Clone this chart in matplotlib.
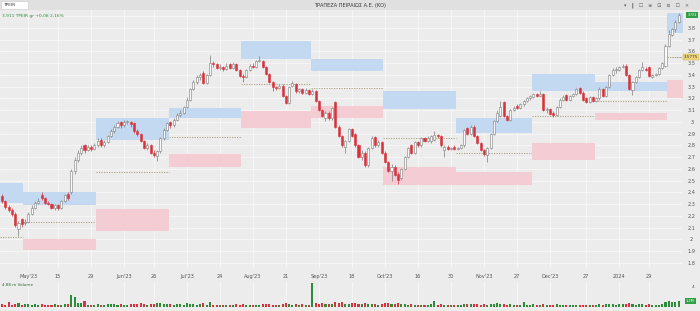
import matplotlib.pyplot as plt
from matplotlib.patches import Rectangle
import matplotlib.transforms as mtransforms

# daily candles, May 2023 - Jan 2024
opens = [2.37, 2.33, 2.28, 2.25, 2.22, 2.09, 2.17, 2.14, 2.15, 2.22,
         2.27, 2.31, 2.38, 2.35, 2.31, 2.30, 2.27, 2.29, 2.27, 2.33,
         2.39, 2.40, 2.58, 2.68, 2.74, 2.80, 2.76, 2.79, 2.77, 2.80,
         2.85, 2.80, 2.83, 2.88, 2.92, 2.96, 3.00, 2.97, 3.00, 3.00,
         2.99, 2.92, 2.90, 2.84, 2.78, 2.80, 2.74, 2.71, 2.75, 2.86,
         2.93, 3.00, 2.97, 3.02, 3.06, 3.08, 3.13, 3.19, 3.28, 3.34,
         3.38, 3.42, 3.33, 3.40, 3.50, 3.49, 3.46, 3.47, 3.45, 3.49,
         3.46, 3.49, 3.44, 3.39, 3.38, 3.44, 3.48, 3.47, 3.52, 3.52,
         3.47, 3.41, 3.34, 3.30, 3.29, 3.31, 3.22, 3.16, 3.31, 3.32,
         3.26, 3.28, 3.25, 3.27, 3.24, 3.26, 3.18, 3.10, 3.03, 3.08,
         3.03, 3.17, 2.96, 2.88, 2.79, 2.84, 2.94, 2.90, 2.80, 2.70,
         2.74, 2.63, 2.78, 2.87, 2.80, 2.83, 2.74, 2.66, 2.58, 2.62,
         2.56, 2.52, 2.60, 2.70, 2.80, 2.74, 2.83, 2.80, 2.86, 2.84,
         2.84, 2.85, 2.89, 2.88, 2.76, 2.79, 2.77, 2.79, 2.77, 2.78,
         2.80, 2.95, 2.90, 2.96, 2.88, 2.82, 2.76, 2.72, 2.78, 2.90,
         3.01, 3.05, 3.17, 3.05, 3.02, 3.10, 3.14, 3.12, 3.15, 3.18,
         3.20, 3.21, 3.24, 3.22, 3.24, 3.10, 3.11, 3.08, 3.06, 3.13,
         3.19, 3.23, 3.19, 3.22, 3.24, 3.29, 3.25, 3.20, 3.17, 3.21,
         3.18, 3.20, 3.28, 3.22, 3.30, 3.40, 3.44, 3.44, 3.47, 3.48,
         3.40, 3.27, 3.34, 3.38, 3.44, 3.45, 3.47, 3.38, 3.40, 3.41,
         3.46, 3.48, 3.65, 3.74, 3.79, 3.85]
closes = [2.33, 2.28, 2.25, 2.22, 2.12, 2.14, 2.13, 2.15, 2.22, 2.27,
          2.31, 2.33, 2.35, 2.31, 2.30, 2.27, 2.29, 2.27, 2.33, 2.38,
          2.35, 2.58, 2.68, 2.74, 2.78, 2.76, 2.79, 2.77, 2.80, 2.84,
          2.80, 2.83, 2.88, 2.92, 2.96, 2.99, 2.97, 3.00, 3.00, 2.98,
          2.92, 2.90, 2.84, 2.78, 2.80, 2.74, 2.72, 2.75, 2.86, 2.93,
          2.99, 2.97, 3.02, 3.06, 3.08, 3.13, 3.19, 3.28, 3.34, 3.38,
          3.40, 3.33, 3.40, 3.50, 3.49, 3.46, 3.47, 3.45, 3.48, 3.46,
          3.49, 3.44, 3.39, 3.38, 3.44, 3.48, 3.47, 3.52, 3.53, 3.47,
          3.41, 3.34, 3.30, 3.29, 3.31, 3.22, 3.16, 3.30, 3.33, 3.26,
          3.28, 3.25, 3.27, 3.24, 3.26, 3.18, 3.10, 3.05, 3.08, 3.03,
          3.12, 2.96, 2.88, 2.80, 2.84, 2.94, 2.88, 2.80, 2.70, 2.74,
          2.63, 2.78, 2.86, 2.80, 2.83, 2.74, 2.66, 2.58, 2.62, 2.55,
          2.51, 2.60, 2.70, 2.78, 2.74, 2.83, 2.80, 2.86, 2.84, 2.86,
          2.88, 2.89, 2.88, 2.80, 2.79, 2.77, 2.78, 2.77, 2.78, 2.80,
          2.93, 2.90, 2.96, 2.88, 2.82, 2.76, 2.73, 2.78, 2.90, 3.01,
          3.08, 3.13, 3.05, 3.02, 3.10, 3.12, 3.12, 3.15, 3.18, 3.20,
          3.22, 3.24, 3.22, 3.24, 3.10, 3.11, 3.07, 3.06, 3.13, 3.19,
          3.21, 3.19, 3.22, 3.24, 3.28, 3.25, 3.19, 3.17, 3.21, 3.18,
          3.20, 3.28, 3.22, 3.30, 3.40, 3.44, 3.45, 3.47, 3.48, 3.40,
          3.28, 3.34, 3.38, 3.44, 3.47, 3.44, 3.39, 3.40, 3.41, 3.46,
          3.50, 3.65, 3.75, 3.79, 3.85, 3.91]
highs = [2.39, 2.34, 2.29, 2.27, 2.23, 2.16, 2.18, 2.17, 2.23, 2.29,
         2.33, 2.35, 2.40, 2.36, 2.33, 2.31, 2.30, 2.30, 2.34, 2.39,
         2.40, 2.60, 2.70, 2.76, 2.80, 2.81, 2.80, 2.80, 2.82, 2.86,
         2.86, 2.85, 2.89, 2.94, 2.97, 3.01, 3.01, 3.02, 3.02, 3.01,
         3.00, 2.94, 2.91, 2.85, 2.82, 2.81, 2.76, 2.76, 2.87, 2.95,
         3.00, 3.01, 3.03, 3.08, 3.10, 3.14, 3.21, 3.29, 3.36, 3.40,
         3.42, 3.43, 3.41, 3.57, 3.52, 3.50, 3.49, 3.48, 3.50, 3.50,
         3.51, 3.50, 3.45, 3.41, 3.45, 3.49, 3.50, 3.53, 3.56, 3.53,
         3.48, 3.42, 3.35, 3.31, 3.32, 3.32, 3.23, 3.31, 3.35, 3.33,
         3.29, 3.29, 3.29, 3.28, 3.28, 3.27, 3.19, 3.11, 3.09, 3.09,
         3.13, 3.18, 2.97, 2.89, 2.85, 2.95, 2.95, 2.91, 2.81, 2.76,
         2.75, 2.79, 2.88, 2.88, 2.85, 2.84, 2.75, 2.67, 2.64, 2.63,
         2.57, 2.61, 2.71, 2.79, 2.81, 2.84, 2.84, 2.87, 2.87, 2.88,
         2.89, 2.92, 2.90, 2.89, 2.80, 2.80, 2.79, 2.80, 2.79, 2.81,
         2.94, 2.96, 2.97, 2.97, 2.89, 2.83, 2.77, 2.79, 2.91, 3.02,
         3.10, 3.18, 3.18, 3.06, 3.11, 3.14, 3.15, 3.16, 3.19, 3.21,
         3.23, 3.25, 3.25, 3.26, 3.25, 3.13, 3.12, 3.09, 3.14, 3.20,
         3.23, 3.24, 3.23, 3.25, 3.29, 3.30, 3.26, 3.21, 3.22, 3.22,
         3.21, 3.30, 3.29, 3.31, 3.41, 3.46, 3.47, 3.48, 3.49, 3.49,
         3.41, 3.35, 3.39, 3.45, 3.51, 3.47, 3.48, 3.41, 3.42, 3.47,
         3.51, 3.66, 3.78, 3.80, 3.87, 3.93]
lows = [2.31, 2.26, 2.23, 2.20, 2.11, 2.03, 2.11, 2.12, 2.14, 2.21,
        2.26, 2.30, 2.34, 2.30, 2.29, 2.26, 2.25, 2.25, 2.26, 2.32,
        2.34, 2.39, 2.56, 2.66, 2.72, 2.74, 2.75, 2.75, 2.76, 2.79,
        2.79, 2.79, 2.82, 2.87, 2.91, 2.95, 2.95, 2.96, 2.98, 2.96,
        2.91, 2.88, 2.83, 2.77, 2.76, 2.73, 2.70, 2.67, 2.74, 2.85,
        2.92, 2.95, 2.96, 3.01, 3.04, 3.07, 3.12, 3.18, 3.27, 3.32,
        3.36, 3.32, 3.32, 3.39, 3.47, 3.45, 3.44, 3.43, 3.44, 3.45,
        3.45, 3.43, 3.38, 3.34, 3.37, 3.43, 3.46, 3.46, 3.51, 3.46,
        3.40, 3.33, 3.26, 3.27, 3.28, 3.21, 3.15, 3.15, 3.30, 3.25,
        3.25, 3.24, 3.24, 3.23, 3.23, 3.17, 3.09, 3.04, 3.01, 3.02,
        3.02, 2.95, 2.87, 2.79, 2.74, 2.83, 2.87, 2.79, 2.69, 2.68,
        2.62, 2.62, 2.77, 2.79, 2.79, 2.73, 2.65, 2.57, 2.50, 2.54,
        2.47, 2.51, 2.59, 2.69, 2.73, 2.73, 2.79, 2.79, 2.83, 2.83,
        2.82, 2.84, 2.86, 2.79, 2.70, 2.76, 2.76, 2.76, 2.76, 2.77,
        2.79, 2.89, 2.89, 2.87, 2.81, 2.75, 2.71, 2.66, 2.77, 2.89,
        3.00, 3.04, 3.04, 3.01, 3.01, 3.09, 3.11, 3.11, 3.14, 3.17,
        3.19, 3.20, 3.21, 3.21, 3.09, 3.08, 3.06, 3.04, 3.05, 3.12,
        3.18, 3.18, 3.18, 3.21, 3.23, 3.24, 3.18, 3.16, 3.16, 3.17,
        3.17, 3.19, 3.21, 3.21, 3.29, 3.39, 3.42, 3.43, 3.46, 3.39,
        3.27, 3.23, 3.33, 3.37, 3.43, 3.43, 3.38, 3.37, 3.39, 3.40,
        3.45, 3.47, 3.64, 3.73, 3.77, 3.84]
volumes = [0.5, 0.4, 0.9, 0.4, 0.6, 0.7, 0.3, 0.5, 0.6, 0.4,
           0.5, 0.3, 0.6, 0.4, 0.3, 0.4, 0.5, 0.3, 0.4, 0.5,
           0.6, 2.3, 1.9, 0.8, 0.7, 1.2, 0.4, 0.3, 0.4, 0.5,
           0.3, 0.3, 0.5, 0.6, 0.5, 0.4, 0.6, 0.4, 0.3, 0.5,
           0.6, 0.5, 0.7, 0.6, 0.4, 0.5, 0.6, 0.7, 0.8, 0.6,
           0.5, 0.6, 0.4, 0.5, 0.6, 0.4, 0.7, 0.6, 0.5, 0.4,
           0.5, 0.8, 0.4, 0.9, 0.4, 0.3, 0.4, 0.3, 0.4, 0.3,
           0.3, 0.5, 0.4, 0.6, 0.3, 0.4, 0.3, 0.3, 0.4, 0.5,
           0.5, 0.6, 0.4, 0.3, 0.3, 0.6, 0.7, 0.5, 0.4, 0.5,
           0.4, 0.5, 0.4, 0.4, 4.7, 0.8, 0.6, 0.7, 0.5, 0.6,
           0.6, 0.9, 0.8, 0.9, 0.6, 0.5, 0.7, 0.8, 0.6, 0.5,
           0.7, 0.6, 0.5, 0.6, 0.4, 0.6, 0.7, 0.8, 0.5, 0.6,
           0.7, 0.6, 0.5, 0.4, 0.5, 0.4, 0.4, 0.3, 0.4, 0.3,
           0.5, 1.1, 0.4, 0.5, 0.3, 0.4, 0.3, 0.3, 0.4, 0.3,
           0.6, 0.5, 0.5, 0.6, 0.5, 0.4, 0.5, 0.4, 0.5, 0.6,
           0.7, 0.5, 0.6, 0.4, 0.5, 0.4, 0.3, 0.4, 0.9, 0.4,
           0.4, 0.5, 0.4, 0.3, 0.6, 0.4, 0.4, 0.3, 0.5, 0.4,
           0.4, 0.3, 0.3, 0.4, 0.3, 0.4, 0.3, 0.3, 0.4, 0.3,
           0.4, 0.5, 0.4, 0.5, 0.6, 0.5, 0.4, 0.6, 0.5, 0.6,
           0.7, 0.5, 0.4, 0.5, 0.6, 0.4, 0.5, 0.4, 0.3, 0.4,
           0.6, 1.0, 1.1, 0.9, 1.0, 1.2]

tick_idx = [8, 17, 27, 37, 46, 56, 66, 76, 86, 96, 106, 116, 126, 136,
            146, 156, 166, 177, 187, 196]
tick_labels = ["May'23", "15", "29", "Jun'23", "26", "Jul'23", "24", "Aug'23",
               "21", "Sep'23", "18", "Oct'23", "16", "30", "Nov'23", "27",
               "Dec'23", "27", "2024", "29"]
price_ticks = [1.8, 1.9, 2.0, 2.1, 2.2, 2.3, 2.4, 2.5, 2.6, 2.7, 2.8,
               2.9, 3.0, 3.1, 3.2, 3.3, 3.4, 3.5, 3.6, 3.7, 3.8, 3.9]

# monthly zones (start/end in candle index)
zone_start = [-0.6, 6.5, 28.5, 50.5, 72.5, 93.5, 115.5, 137.5, 160.5, 179.5, 201.5]
zone_end = [6.5, 28.5, 50.5, 72.5, 93.5, 115.5, 137.5, 160.5, 179.5, 201.5, 206.4]
blue_hi = [2.48, 2.40, 3.03, 3.12, 3.69, 3.54, 3.26, 3.03, 3.41, 3.34, 3.93]
blue_lo = [2.31, 2.29, 2.85, 3.03, 3.54, 3.43, 3.11, 2.91, 3.26, 3.26, 3.76]
pink_hi = [None, 2.00, 2.26, 2.73, 3.09, 3.14, 2.62, 2.57, 2.82, 3.08, 3.36]
pink_lo = [None, 1.91, 2.07, 2.62, 2.95, 3.03, 2.46, 2.46, 2.68, 3.02, 3.20]
mid_level = [2.02, 2.15, 2.57, 2.87, 3.32, 3.29, 2.86, 2.74, 3.05, 3.18, 3.55]

BG = '#ececec'
GRID = '#f7f7f7'
RED = '#d8333c'
UP_EDGE = '#7d7d7d'
GREEN = '#2e8b3a'

W, H = 700, 311
fig = plt.figure(figsize=(W / 100, H / 100), dpi=100, facecolor=BG)

# header band
fig.add_artist(Rectangle((0, 1 - 10 / H), 1, 10 / H, transform=fig.transFigure,
                         facecolor='#e0e0e0', edgecolor='none'))
fig.add_artist(Rectangle((1 / W, 1 - 9 / H), 27 / W, 8 / H, transform=fig.transFigure,
                         facecolor='white', edgecolor='#c8c8c8', lw=0.4))
fig.text(3 / W, 1 - 5 / H, 'TPEIR', fontsize=3.2, color='#333333', va='center')
fig.text(0.5, 1 - 5 / H, 'ΤΡΑΠΕΖΑ ΠΕΙΡΑΙΩΣ Α.Ε. (ΚΟ)', fontsize=3.6,
         color='#333333', ha='center', va='center')
fig.text(0.985, 1 - 5 / H, '▾   ‖   ☐   ⊜   ⊡   ≡   ☐   ×', fontsize=3.6,
         color='#666666', ha='right', va='center')

main_left, main_w = 0.0, 682 / W
ax = fig.add_axes([main_left, 1 - 268 / H, main_w, 258 / H])
vax = fig.add_axes([main_left, 1 - 307 / H, main_w, 25 / H], sharex=ax)

for a in (ax, vax):
    a.set_facecolor(BG)
    for s in a.spines.values():
        s.set_visible(False)
    a.set_axisbelow(True)

n = len(closes)
idx = list(range(n))
up = [c >= o for o, c in zip(opens, closes)]

# zones
for i in range(len(zone_start)):
    xs = [zone_start[i], zone_end[i]]
    ax.fill_between(xs, blue_lo[i], blue_hi[i], color='#c3d9f1', lw=0, zorder=1)
    if pink_hi[i] is not None:
        ax.fill_between(xs, pink_lo[i], pink_hi[i], color='#f3cdd3', lw=0, zorder=1)
    ax.plot(xs, [mid_level[i], mid_level[i]], color='#a89a74', lw=0.6,
            ls=(0, (1.5, 1.5)), zorder=1)

# candles
wick_col = [UP_EDGE if u else RED for u in up]
ax.vlines(idx, lows, highs, colors=wick_col, lw=0.5, zorder=2)
bottoms = [min(o, c) for o, c in zip(opens, closes)]
heights = [max(abs(c - o), 0.004) for o, c in zip(opens, closes)]
ax.bar(idx, heights, bottom=bottoms, width=0.62,
       color=['#fafafa' if u else RED for u in up],
       edgecolor=[UP_EDGE if u else RED for u in up], lw=0.4, zorder=3)

ax.set_xlim(-0.6, 206)
ax.set_ylim(1.757, 3.953)
ax.set_xticks(tick_idx)
ax.set_xticklabels(tick_labels)
ax.set_yticks(price_ticks)
# the top label sits under the last-price badge
ax.set_yticklabels([f'{v:g}' for v in price_ticks[:-1]] + [''])
ax.yaxis.tick_right()
ax.tick_params(axis='y', length=0, pad=7, labelsize=3.6, labelcolor='#555555')
ax.tick_params(axis='x', length=0, pad=4, labelsize=3.6, labelcolor='#555555')
for lab in ax.get_yticklabels():
    lab.set_horizontalalignment('center')
ax.grid(True, color=GRID, lw=0.6)

# price badges on the right scale
trans = mtransforms.blended_transform_factory(ax.transAxes, ax.transData)
ax.text(1.008, closes[-1], f'{closes[-1]:.2f}', transform=trans, fontsize=3.2,
        color='white', ha='left', va='center',
        bbox=dict(boxstyle='square,pad=0.25', fc='#2f9e44', ec='none'))
ax.plot([0.985, 1.0], [mid_level[-1], mid_level[-1]], transform=trans,
        color='#a89a74', lw=0.5, ls=(0, (1.5, 1.5)), clip_on=False)
ax.text(1.003, mid_level[-1], '3.5775', transform=trans, fontsize=3.0,
        color='#333333', ha='left', va='center',
        bbox=dict(boxstyle='square,pad=0.25', fc='#f0d67a', ec='#c9a640', lw=0.3))

ax.text(0.003, 0.985, '3,911 TPEIR gr +0,08 2,16%', transform=ax.transAxes,
        fontsize=3.2, color=GREEN, ha='left', va='top')

# volume
vax.bar(idx, volumes, width=0.62, color=['#2e8b3a' if u else RED for u in up],
        lw=0, zorder=2)
vax.set_ylim(0, 4.9)
vax.set_yticks([4])
vax.set_yticklabels(['4'])
vax.yaxis.tick_right()
vax.tick_params(axis='y', length=0, pad=7, labelsize=3.2, labelcolor='#555555')
vax.tick_params(axis='x', length=0, labelbottom=False)
vax.grid(True, axis='x', color=GRID, lw=0.6)
vax.text(0.003, 0.98, '4.88 m Volume', transform=vax.transAxes, fontsize=3.0,
         color='#2e6b36', ha='left', va='top')
vtrans = mtransforms.blended_transform_factory(vax.transAxes, vax.transData)
vax.text(1.006, volumes[-1], '1.2M', transform=vtrans, fontsize=2.6,
         color='white', ha='left', va='center',
         bbox=dict(boxstyle='square,pad=0.2', fc='#2f9e44', ec='none'))

fig.savefig('out.png', dpi=100, facecolor=BG)
